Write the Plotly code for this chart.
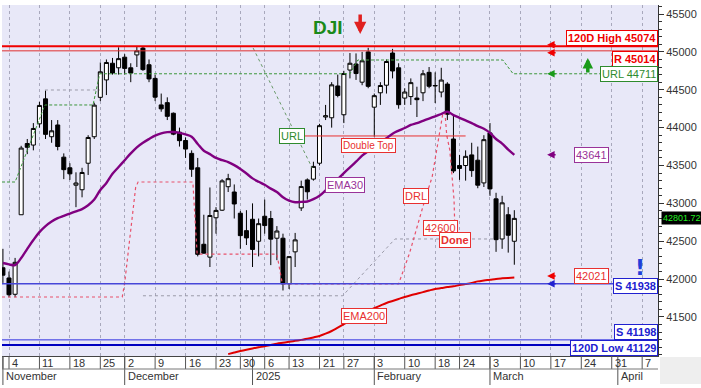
import datetime as dt
import plotly.graph_objects as go

# ---------------- data ----------------
dates = ["2024-11-01",
         "2024-11-04", "2024-11-05", "2024-11-06", "2024-11-07", "2024-11-08",
         "2024-11-11", "2024-11-12", "2024-11-13", "2024-11-14", "2024-11-15",
         "2024-11-18", "2024-11-19", "2024-11-20", "2024-11-21", "2024-11-22",
         "2024-11-25", "2024-11-26", "2024-11-27", "2024-11-29",
         "2024-12-02", "2024-12-03", "2024-12-04", "2024-12-05", "2024-12-06",
         "2024-12-09", "2024-12-10", "2024-12-11", "2024-12-12", "2024-12-13",
         "2024-12-16", "2024-12-17", "2024-12-18", "2024-12-19", "2024-12-20",
         "2024-12-23", "2024-12-24", "2024-12-26", "2024-12-27",
         "2024-12-30", "2024-12-31", "2025-01-02", "2025-01-03",
         "2025-01-06", "2025-01-07", "2025-01-08", "2025-01-10",
         "2025-01-13", "2025-01-14", "2025-01-15", "2025-01-16", "2025-01-17",
         "2025-01-21", "2025-01-22", "2025-01-23", "2025-01-24",
         "2025-01-27", "2025-01-28", "2025-01-29", "2025-01-30", "2025-01-31",
         "2025-02-03", "2025-02-04", "2025-02-05", "2025-02-06", "2025-02-07",
         "2025-02-10", "2025-02-11", "2025-02-12", "2025-02-13", "2025-02-14",
         "2025-02-18", "2025-02-19", "2025-02-20", "2025-02-21",
         "2025-02-24", "2025-02-25", "2025-02-26", "2025-02-27", "2025-02-28",
         "2025-03-03", "2025-03-04", "2025-03-05", "2025-03-06", "2025-03-07"]

future_dates = ["2025-03-10", "2025-03-11", "2025-03-12", "2025-03-13", "2025-03-14",
                "2025-03-17", "2025-03-18", "2025-03-19", "2025-03-20", "2025-03-21",
                "2025-03-24", "2025-03-25", "2025-03-26", "2025-03-27", "2025-03-28",
                "2025-03-31", "2025-04-01", "2025-04-02", "2025-04-03", "2025-04-04",
                "2025-04-07", "2025-04-08", "2025-04-09", "2025-04-10"]

open_ = [42150, 42015, 41800, 42850, 43790, 43770, 44050, 44380, 43880, 44035, 43610,
         43470, 43240, 43180, 43530, 43880, 44400, 44630, 44850, 44790,
         44930, 44790, 44960, 45050, 44830, 44650, 44300, 44330, 44190, 43940,
         43830, 43660, 43470, 42460, 42290, 42810, 42910, 43220, 43150,
         42870, 42640, 42790, 42500, 42830, 42800, 42540, 42540,
         41940, 42360, 42940, 43310, 43320, 43530, 44140, 44130, 44550,
         44170, 44760, 44840, 44600, 45000,
         44270, 44460, 44560, 44985, 44790, 44390, 44410, 44390, 44460, 44730,
         44550, 44470, 44575, 43850, 43500, 43500, 43640, 43570, 43270,
         43930, 43060, 42530, 42850, 42500]
high = [42400, 42100, 42280, 43760, 43850, 44060, 44340, 44490, 44100, 44100, 43660,
        43530, 43410, 43470, 43900, 44330, 44860, 44900, 44920, 45060,
        44970, 44850, 45074, 45070, 44900, 44700, 44450, 44400, 44200, 44000,
        43870, 43700, 43600, 42850, 43210, 42950, 43320, 43390, 43250,
        42900, 42910, 43000, 42800, 43050, 42900, 42700, 42600,
        42300, 42610, 43300, 43330, 43550, 44050, 44300, 44600, 44700,
        44750, 44985, 44980, 45000, 45054,
        44450, 44600, 44900, 45040, 44850, 44520, 44650, 44540, 44760, 44800,
        44730, 44790, 44600, 44180, 43640, 43700, 43800, 43750, 43900,
        44060, 43140, 43100, 42950, 42910]
low = [41950, 41760, 41760, 42850, 43650, 43700, 44000, 43850, 43800, 43700, 43320,
       43310, 42950, 43080, 43375, 43850, 44350, 44430, 44700, 44700,
       44700, 44600, 44800, 44750, 44600, 44350, 44210, 44100, 43900, 43750,
       43600, 43350, 42300, 42345, 42160, 42600, 42900, 43150, 42800,
       42400, 42450, 42160, 42300, 42600, 42185, 42250, 41850,
       41870, 42160, 42900, 43050, 43300, 43500, 44100, 44000, 44400,
       44060, 44650, 44630, 44560, 44520,
       43880, 44300, 44450, 44650, 44250, 44300, 44300, 44140, 44350, 44520,
       44325, 44400, 44100, 43400, 43310, 43300, 43350, 43200, 43216,
       43100, 42360, 42400, 42350, 42190]
close = [42052, 41794, 42222, 43730, 43740, 43989, 44293, 43911, 43958, 43751, 43445,
         43390, 43269, 43408, 43870, 44297, 44737, 44860, 44722, 44911,
         44782, 44720, 45014, 44766, 44643, 44402, 44248, 44149, 43914, 43828,
         43717, 43450, 42327, 42342, 42840, 42907, 43297, 43326, 42992,
         42574, 42544, 42392, 42732, 42707, 42528, 42635, 41938,
         42297, 42518, 43222, 43153, 43488, 44026, 44157, 44565, 44424,
         44714, 44850, 44714, 44882, 44545,
         44422, 44556, 44873, 44748, 44303, 44470, 44594, 44369, 44711, 44546,
         44556, 44628, 44177, 43428, 43461, 43621, 43433, 43240, 43841,
         43191, 42521, 43007, 42579, 42801.72]

ema30 = [42213, 42195, 42186, 42279, 42400, 42516, 42620, 42700, 42760, 42805, 42835,
         42865, 42895, 42925, 42975, 43050, 43177, 43270, 43390, 43480,
         43570, 43660, 43740, 43800, 43850, 43895, 43925, 43940, 43942, 43930,
         43910, 43880, 43785, 43695, 43650, 43600, 43570, 43545, 43505,
         43455, 43395, 43330, 43285, 43245, 43195, 43150, 43080,
         43035, 43015, 43020, 43025, 43055, 43100, 43170, 43245, 43320,
         43400, 43475, 43550, 43630, 43690,
         43745, 43800, 43860, 43920, 43960, 43995, 44035, 44060, 44090, 44120,
         44150, 44180, 44210, 44165, 44130, 44095, 44060, 44020, 43985,
         43930, 43850, 43790, 43710, 43641]

ema200 = [None] * 37 + [
    41010, 41030, 41050, 41068, 41085, 41100, 41113, 41130, 41148, 41160,
    41172, 41185, 41198, 41212, 41230, 41250, 41280, 41315, 41360, 41405,
    41450, 41495, 41540, 41580, 41615, 41650, 41685, 41712, 41738, 41765,
    41788, 41808, 41828, 41850, 41870, 41882, 41895, 41905, 41922, 41935,
    41950, 41970, 41982, 41992, 42003, 42010, 42016, 42021]

# horizontal support / resistance levels
high120 = 45074
resist = 45014
url_level = 44711
support = 41938
support2 = 41198
low120 = 41129
last_price = 42801.72
y_tick_values = [41500, 42000, 42500, 43000, 43500, 44000, 44500, 45000, 45500]

# indicator step / trend lines (bar position, value)
url_x = [-0.15, 2.0, 6.9, 14.8, 15.9, 57.0, 58.3, 82.1, 83.8, 107.6]
url_y = [43282, 43282, 44299, 44299, 44711, 44711, 44893, 44893, 44711, 44711]
url_diag_x = [41.1, 50.8]
url_diag_y = [45051, 43467]
drl_x = [-0.15, 19.6, 20.0, 20.9, 21.8, 22.2, 31.2, 31.9, 45.0, 45.9, 65.0,
         66.8, 68.2, 69.3, 70.5, 71.3, 72.3]
drl_y = [41764, 41764, 41950, 42610, 43210, 43282, 43282, 42330, 42330, 41938, 41938,
         42345, 42741, 43045, 43348, 43705, 44206]
drl2_x = [72.6, 72.9, 73.4, 73.7, 74.1, 74.2]
drl2_y = [44206, 43900, 43705, 43440, 43045, 42754]
band_low_x = [23.0, 55.8, 64.4, 80.5]
band_low_y = [41780, 41780, 42530, 42530]
band_up_x = [6.9, 15.9]
band_up_y = [44497, 44497]
dtop_x = [49.6, 76.0]
dtop_y = [43890, 43890]

# ---------------- axis helpers ----------------
all_dates = dates + future_dates
parsed = [dt.date.fromisoformat(d) for d in all_dates]
xi = list(range(len(dates)))

week_ticks, week_labels = [], []
month_ticks, month_labels = [], []
for i, d in enumerate(parsed):
    if i == 0 or d.isocalendar()[1] != parsed[i - 1].isocalendar()[1]:
        week_ticks.append(i)
        week_labels.append(str(d.day) if i > 0 else "")
    if i == 0 or d.month != parsed[i - 1].month:
        month_ticks.append(i)
        if d.month == 1:
            month_labels.append(str(d.year))
        else:
            month_labels.append(d.strftime("%B"))

FONT = "Liberation Sans, Arial, sans-serif"
PLOT_H = 351.0

fig = go.Figure()

fig.add_trace(go.Candlestick(
    x=xi, open=open_, high=high, low=low, close=close,
    increasing=dict(line=dict(color="black", width=1), fillcolor="white"),
    decreasing=dict(line=dict(color="black", width=1), fillcolor="black"),
    whiskerwidth=0, showlegend=False, hoverinfo="skip"))

def line(x, y, color, width, dash=None, shape="linear"):
    fig.add_trace(go.Scatter(x=x, y=y, mode="lines", showlegend=False, hoverinfo="skip",
                             line=dict(color=color, width=width, dash=dash, shape=shape)))

line(band_up_x, band_up_y, "#9a9aa8", 1, "dot")
line(band_low_x, band_low_y, "#9a9aa8", 1, "dot")
line(url_x, url_y, "#3c963c", 1, "3px,2px")
line(url_diag_x, url_diag_y, "#6a9a6a", 1, "dot")
line(drl_x, drl_y, "#e8506a", 1.2, "dot")
line(drl2_x, drl2_y, "#e8506a", 1.2, "dot")
line(dtop_x, dtop_y, "#e83030", 1)
line(xi, ema30, "#800080", 2.4, None, "spline")
line(xi, ema200, "#e00000", 2, None, "spline")

shapes = []
def hline(y, color, width):
    shapes.append(dict(type="line", xref="paper", x0=0, x1=1, yref="y", y0=y, y1=y,
                       line=dict(color=color, width=width)))

hline(high120, "#f00000", 2)
hline(resist, "#e03030", 1)
hline(support, "#4646d8", 1.5)
hline(support2, "#3030e0", 1)
hline(low120, "#0000c0", 2)

# x axis cell separators
for t in week_ticks:
    shapes.append(dict(type="line", xref="x", x0=t, x1=t, yref="paper",
                       y0=0, y1=-13 / PLOT_H, line=dict(color="#555", width=1)))
for t in month_ticks:
    shapes.append(dict(type="line", xref="x", x0=t, x1=t, yref="paper",
                       y0=0, y1=-29 / PLOT_H, line=dict(color="#555", width=1)))
shapes.append(dict(type="line", xref="paper", x0=0, x1=1, yref="paper",
                   y0=-13 / PLOT_H, y1=-13 / PLOT_H, line=dict(color="#777", width=1)))
shapes.append(dict(type="rect", xref="paper", x0=1.003, x1=1.07, yref="paper",
                   y0=-28 / PLOT_H, y1=-1 / PLOT_H, fillcolor="#eeeeee",
                   line=dict(width=0)))

ann = []
for t, lab in zip(week_ticks, week_labels):
    ann.append(dict(x=t, xref="x", y=-7 / PLOT_H, yref="paper", text=lab, showarrow=False,
                    xanchor="left", yanchor="middle", xshift=1,
                    font=dict(family=FONT, size=11, color="#333")))
for t, lab in zip(month_ticks, month_labels):
    ann.append(dict(x=t, xref="x", y=-20 / PLOT_H, yref="paper", text=lab, showarrow=False,
                    xanchor="left", yanchor="middle", xshift=1,
                    font=dict(family=FONT, size=11, color="#333")))

def box(text, x, y, color, xref="x", xanchor="center", yanchor="middle", bold=False,
        size=10, yshift=0):
    ann.append(dict(x=x, xref=xref, y=y, yref="y",
                    text=("<b>%s</b>" % text) if bold else text,
                    showarrow=False, xanchor=xanchor, yanchor=yanchor, yshift=yshift,
                    bgcolor="white", bordercolor=color, borderwidth=1, borderpad=1,
                    font=dict(family=FONT, size=size, color=color)))

box("120D High %d" % high120, 1, high120, "#f00000", "paper", "right", "bottom", True, 11)
box("R %d" % resist, 1, resist, "#f00000", "paper", "right", "top", True, 11)
box("URL %d" % url_level, 1, url_level, "#2e8b2e", "paper", "right", "middle", False, 11)
box("S %d" % support, 1, support, "#2020d0", "paper", "right", "middle", True, 11, -2)
box("S %d" % support2, 1, support2, "#2020d0", "paper", "right", "bottom", True, 11)
box("120D Low %d" % low120, 1, low120, "#2020d0", "paper", "right", "middle", True, 11, -3)
box("%d" % ema30[-1], 96.7, ema30[-1], "#993399", size=11)
box("%d" % ema200[-1], 96.7, 42041, "#e83030", size=11)
box("URL", 49.6, dtop_y[0], "#2e8b2e", xanchor="right", size=11)
box("Double Top", 60.1, 43770, "#e83030")
box("EMA30", 56.2, 43243, "#993399", size=11)
box("DRL", 67.8, 43097, "#e83030", size=11)
box("42600", 71.8, 42675, "#e83030", size=11)
box("Done", 74.2, 42516, "#e83030", bold=True, size=11)
box("EMA200", 59.3, 41513, "#e83030", size=11)

# last price tag on the axis
ann.append(dict(x=1, xref="paper", y=last_price, yref="y", text="%.2f" % last_price,
                showarrow=False, xanchor="left", xshift=3, yanchor="middle",
                bgcolor="black", borderpad=1,
                font=dict(family=FONT, size=9, color="#22ee22")))

# title & signal arrows
ann.append(dict(x=0.497, xref="paper", y=45328, yref="y", text="<b>DJI</b>",
                showarrow=False, font=dict(family=FONT, size=19, color="#1a8a1a")))
ann.append(dict(x=0.546, xref="paper", y=45236, yref="y", text="", showarrow=True,
                ax=0, ay=-21, arrowhead=2, arrowsize=0.7, arrowwidth=3.5,
                arrowcolor="#e02020"))
ann.append(dict(x=0.893, xref="paper", y=44919, yref="y", text="", showarrow=True,
                ax=0, ay=16, arrowhead=2, arrowsize=0.6, arrowwidth=3.5,
                arrowcolor="#1a9a1a"))
for yv, col in [(high120 + 20, "#f00000"), (resist - 25, "#f00000"),
                (url_level, "#1a9a1a"), (ema30[-1], "#800080"),
                (ema200[-1] + 20, "#f00000"), (support, "#2020d0")]:
    ann.append(dict(x=0.831, xref="paper", y=yv, yref="y", text="", showarrow=True,
                    ax=10, ay=0, arrowhead=2, arrowsize=1, arrowwidth=1.5, arrowcolor=col))
ann.append(dict(x=0.983, xref="paper", y=42147, yref="y", text="<b>!</b>",
                showarrow=False, font=dict(family="DejaVu Sans", size=22, color="#1f3fd8")))

fig.update_layout(
    width=701, height=388,
    margin=dict(l=2, r=43, t=5, b=32),
    paper_bgcolor="white", plot_bgcolor="#E8E8F8",
    boxgap=0.34, boxgroupgap=0,
    shapes=shapes, annotations=ann,
    xaxis=dict(range=[-0.15, 107.6], tickvals=week_ticks[1:], showticklabels=False,
               ticks="", showgrid=True, gridcolor="#a8a8bc", griddash="dot", gridwidth=1,
               showline=True, linecolor="#444", zeroline=False,
               rangeslider=dict(visible=False), fixedrange=True),
    yaxis=dict(side="right", range=[40985, 45619], tickvals=y_tick_values, tickformat="d",
               ticks="outside", ticklen=5, tickcolor="#333", showline=True,
               linecolor="#333", showgrid=False, zeroline=False,
               tickfont=dict(family=FONT, size=11, color="#333"),
               minor=dict(dtick=100, ticks="outside", ticklen=3, tickcolor="#333",
                          showgrid=False)),
    font=dict(family=FONT),
)

fig.write_html("out.html")
